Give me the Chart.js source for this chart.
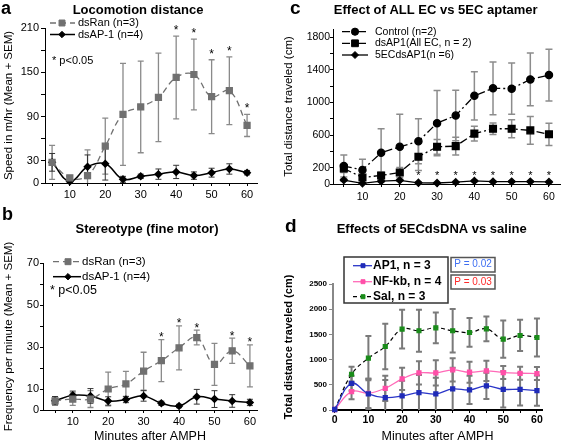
<!DOCTYPE html>
<html>
<head>
<meta charset="utf-8">
<script src="https://cdn.jsdelivr.net/npm/chart.js@4.4.1/dist/chart.umd.min.js"></script>
<style>
  body { margin: 0; background: #fff; }
  #wrap { position: relative; width: 567px; height: 443px; overflow: hidden; background: #fff; }
  canvas { position: absolute; }
</style>
</head>
<body>
<div id="wrap">
  <canvas id="chartA" width="280" height="200" style="left:0;top:0"></canvas>
  <canvas id="chartB" width="280" height="243" style="left:0;top:200px"></canvas>
  <canvas id="chartC" width="287" height="200" style="left:280px;top:0"></canvas>
  <canvas id="chartD" width="287" height="243" style="left:280px;top:200px"></canvas>
</div>
<script>
// ---- data ----
const minutes = [5, 10, 15, 20, 25, 30, 35, 40, 45, 50, 55, 60];
const minutesD = [0, 5, 10, 15, 20, 25, 30, 35, 40, 45, 50, 55, 60];
const xTicks = [5, 10, 15, 20, 25, 30, 35, 40, 45, 50, 55, 60];
const xTicksD = [0, 5, 10, 15, 20, 25, 30, 35, 40, 45, 50, 55, 60];

// a: locomotion
const locoRan    = [28, 7, 10, 50, 93, 103, 116, 143, 147, 117, 125, 78];
const locoRanSem = [23, 3, 35, 38, 69, 62, 60, 56, 48, 50, 46, 15];
const locoAp1    = [28, 2, 22, 26, 5, 9, 12, 15, 10, 14, 19, 14];
const locoAp1Sem = [12, 2, 16, 22, 4, 3, 7, 9, 5, 6, 7, 3];
const locoStars  = [40, 45, 50, 55, 60];
const locoTicks  = [0, 30, 60, 90, 120, 150, 180, 210];
const locoLabels = [0, 30, 90, 150, 210];

// b: stereotype
const stereoRan    = [4.4, 5.2, 5.2, 10, 12.4, 18.5, 23.5, 29.6, 34.5, 21.7, 28.2, 21];
const stereoRanSem = [2, 3, 4, 8, 6, 9, 10, 10.5, 3.5, 10, 6, 10];
const stereoAp1    = [4.4, 7, 6.7, 4.3, 5, 6.7, 3.2, 1.9, 6.3, 5.2, 4.3, 3.6];
const stereoAp1Sem = [2, 2, 3.5, 2, 1.5, 2.5, 1, 0.8, 3.5, 4, 3, 1.5];
const stereoStars  = [35, 40, 45, 55, 60];
const stereoTicks  = [0, 10, 20, 30, 40, 50, 60, 70];
const stereoLabels = [0, 10, 30, 50, 70];

// c: all EC vs 5EC
const ctrl      = [220, 173, 383, 456, 524, 746, 839, 1081, 1173, 1169, 1282, 1335];
const ctrlSem   = [135, 130, 295, 400, 275, 400, 310, 295, 323, 315, 323, 318];
const allEc     = [190, 80, 105, 141, 335, 456, 464, 617, 677, 677, 657, 609];
const allEcSem  = [50, 25, 40, 60, 170, 90, 110, 90, 70, 110, 170, 137];
const ec5       = [48, 8, 35, 45, 15, 12, 22, 38, 28, 30, 30, 26];
const ec5Sem    = [15, 6, 10, 10, 8, 5, 8, 10, 8, 8, 8, 8];
const ecStars   = [25, 30, 35, 40, 45, 50, 55, 60];
const ecStarLevel = 140;
const ecTicks   = [0, 200, 400, 600, 800, 1000, 1200, 1400, 1600, 1800];
const ecLabels  = [0, 200, 600, 1000, 1400, 1800];

// d: 5ECdsDNA vs saline
const ap1     = [10, 530, 318, 245, 278, 345, 318, 418, 398, 477, 411, 411, 385];
const ap1Sem  = [0, 150, 300, 350, 300, 350, 320, 420, 280, 260, 360, 320, 300];
const nfkb    = [10, 365, 332, 431, 617, 736, 736, 796, 749, 776, 743, 729, 723];
const nfkbSem = [0, 150, 290, 250, 220, 230, 250, 230, 210, 200, 130, 130, 130];
const sal     = [10, 710, 1028, 1260, 1605, 1572, 1631, 1572, 1538, 1611, 1406, 1479, 1439];
const salSem  = [0, 150, 440, 450, 385, 417, 305, 430, 285, 245, 370, 310, 378];
const dTicks  = [0, 500, 1000, 1500, 2000, 2500];
const pValues = ['P = 0.02', 'P = 0.03'];
const sigNote = '* p<0.05';

// ---- drawing helpers ----
const FONT = '"Liberation Sans", Arial, sans-serif';
Chart.defaults.font.family = FONT;
Chart.defaults.color = '#000';

function pts(xs, ys) { return xs.map((x, i) => ({ x: x, y: ys[i] })); }

function drawMarker(ctx, style, r, x, y, color) {
  ctx.save();
  ctx.fillStyle = color;
  ctx.strokeStyle = color;
  ctx.lineWidth = 1;
  ctx.setLineDash([]);
  ctx.beginPath();
  if (style === 'circle') {
    ctx.arc(x, y, r, 0, Math.PI * 2);
  } else if (style === 'rect') {
    const s = Math.SQRT1_2 * r;
    ctx.rect(x - s, y - s, 2 * s, 2 * s);
  } else {
    ctx.moveTo(x - r, y); ctx.lineTo(x, y - r); ctx.lineTo(x + r, y); ctx.lineTo(x, y + r);
    ctx.closePath();
  }
  ctx.fill();
  ctx.stroke();
  ctx.restore();
}

// per-panel decorations: letters, titles, legends, asterisks
const decos = {
  chartA: {
    letter: { text: 'a', x: 1, y: 14, size: 18 },
    title: { text: 'Locomotion distance', x: 138, y: 13.5 },
    legend: { rows: [[0, 23], [1, 34.5]], x0: 50, x1: 75, mx: 62, tx: 78, font: '11px ' + FONT },
    notes: [{ text: sigNote, x: 52, y: 61, font: '11px ' + FONT }],
    stars: { xs: locoStars, ds: 0, gap: 9, font: '12px ' + FONT },
    cap: 3
  },
  chartB: {
    letter: { text: 'b', x: 2, y: 20, size: 18 },
    title: { text: 'Stereotype (fine motor)', x: 147, y: 32.7 },
    legend: { rows: [[0, 61.7], [1, 76.7]], x0: 53, x1: 81, mx: 68, tx: 82, font: '11.5px ' + FONT },
    notes: [{ text: sigNote, x: 50, y: 91, font: '12.5px ' + FONT }],
    stars: { xs: stereoStars, ds: 0, gap: 5.5, font: '12px ' + FONT },
    cap: 3
  },
  chartC: {
    letter: { text: 'c', x: 10, y: 13.5, size: 19 },
    title: { text: 'Effect of ALL EC vs 5EC aptamer', x: 155.7, y: 14 },
    legend: { rows: [[0, 31.7], [1, 43.3], [2, 55]], x0: 62, x1: 88, mx: 75, tx: 95, font: '10.5px ' + FONT },
    notes: [],
    stars: { xs: ecStars, level: ecStarLevel, font: '11px ' + FONT },
    cap: 3.5
  },
  chartD: {
    letter: { text: 'd', x: 5, y: 32, size: 19 },
    title: { text: 'Effects of 5ECdsDNA vs saline', x: 151.7, y: 32.5 },
    legend: { rows: [[0, 65.7], [1, 81.7], [2, 96.7]], x0: 73, x1: 92, mx: 83, tx: 93, font: 'bold 12px ' + FONT,
              box: [64, 57, 104, 46] },
    notes: [
      { text: pValues[0], x: 193, y: 64.5, font: '10px ' + FONT, color: '#3f6ff2', align: 'center', box: [171, 57.5, 44, 14.5] },
      { text: pValues[1], x: 193, y: 82, font: '10px ' + FONT, color: '#ff2a2a', align: 'center', box: [171, 75, 44, 14] }
    ],
    cap: 3
  }
};

const decoPlugin = {
  id: 'deco',
  beforeDatasetsDraw(chart) {
    const d = decos[chart.canvas.id];
    const ctx = chart.ctx, ys = chart.scales.y;
    chart.data.datasets.forEach((ds, i) => {
      if (!ds.sem) return;
      const meta = chart.getDatasetMeta(i);
      ctx.save();
      ctx.strokeStyle = ds.errColor;
      ctx.lineWidth = ds.errWidth;
      ctx.setLineDash([]);
      meta.data.forEach((pt, j) => {
        const v = ds.data[j].y, e = ds.sem[j];
        if (!e) return;
        const yt = ys.getPixelForValue(v + e);
        const lo = Math.max(v - e, ys.min);
        const yb = ys.getPixelForValue(lo);
        ctx.beginPath();
        ctx.moveTo(pt.x, yt); ctx.lineTo(pt.x, yb);
        ctx.moveTo(pt.x - d.cap, yt); ctx.lineTo(pt.x + d.cap, yt);
        if (v - e > ys.min) { ctx.moveTo(pt.x - d.cap, yb); ctx.lineTo(pt.x + d.cap, yb); }
        ctx.stroke();
      });
      ctx.restore();
    });
  },
  afterDraw(chart) {
    const d = decos[chart.canvas.id];
    const ctx = chart.ctx, xs = chart.scales.x, ys = chart.scales.y;
    ctx.save();
    ctx.fillStyle = '#000';
    ctx.textBaseline = 'alphabetic';
    ctx.textAlign = 'left';
    ctx.font = 'bold ' + d.letter.size + 'px ' + FONT;
    ctx.fillText(d.letter.text, d.letter.x, d.letter.y);
    ctx.textAlign = 'center';
    ctx.font = 'bold 13px ' + FONT;
    ctx.fillText(d.title.text, d.title.x, d.title.y);

    // legend
    const lg = d.legend;
    if (lg.box) {
      ctx.strokeStyle = '#333';
      ctx.lineWidth = 1.5;
      ctx.strokeRect(lg.box[0], lg.box[1], lg.box[2], lg.box[3]);
    }
    lg.rows.forEach(([di, y]) => {
      const ds = chart.data.datasets[di];
      ctx.save();
      ctx.strokeStyle = ds.borderColor;
      ctx.lineWidth = ds.borderWidth;
      ctx.setLineDash(ds.borderDash || []);
      ctx.beginPath();
      ctx.moveTo(lg.x0, y); ctx.lineTo(lg.x1, y);
      ctx.stroke();
      ctx.restore();
      drawMarker(ctx, ds.pointStyle, ds.pointRadius, lg.mx, y, ds.pointBackgroundColor);
      ctx.fillStyle = '#000';
      ctx.font = lg.font;
      ctx.textAlign = 'left';
      ctx.textBaseline = 'middle';
      ctx.fillText(ds.label, lg.tx, y);
    });

    // notes
    d.notes.forEach(n => {
      if (n.box) {
        ctx.strokeStyle = '#555';
        ctx.lineWidth = 1.5;
        ctx.strokeRect(n.box[0], n.box[1], n.box[2], n.box[3]);
      }
      ctx.fillStyle = n.color || '#000';
      ctx.font = n.font;
      ctx.textAlign = n.align || 'left';
      ctx.textBaseline = 'middle';
      ctx.fillText(n.text, n.x, n.y);
    });

    // significance asterisks
    if (d.stars) {
      const st = d.stars;
      ctx.fillStyle = '#000';
      ctx.font = st.font;
      ctx.textAlign = 'center';
      ctx.textBaseline = 'alphabetic';
      const size = parseFloat(st.font);
      st.xs.forEach(xv => {
        let cy;
        if (st.level !== undefined) {
          cy = ys.getPixelForValue(st.level);
        } else {
          const ds = chart.data.datasets[st.ds];
          const j = ds.data.findIndex(p => p.x === xv);
          cy = ys.getPixelForValue(ds.data[j].y + ds.sem[j]) - st.gap;
        }
        ctx.fillText('*', xs.getPixelForValue(xv), cy + 0.57 * size);
      });
    }
    ctx.restore();
  }
};
Chart.register(decoPlugin);

function xAxis(min, max, ticks, height, pad, font, title, lw, tl) {
  return {
    type: 'linear', min: min, max: max,
    afterBuildTicks: s => { s.ticks = ticks.map(v => ({ value: v })); },
    afterFit: s => { s.height = height; },
    border: { color: '#000', width: lw || 1 },
    grid: { drawOnChartArea: false, drawTicks: true, tickLength: tl || 3, color: '#000', lineWidth: 1 },
    ticks: { autoSkip: false, maxRotation: 0, padding: pad, font: font,
             callback: v => (v % 10 === 0 ? v : '') },
    title: title ? { display: true, text: 'Minutes after AMPH', font: { size: 12.5, lineHeight: 1 }, padding: { top: 0, bottom: 0 } }
                 : { display: false }
  };
}

function yAxis(min, max, ticks, labels, width, tl, pad, font, title, titleFont, color, lw) {
  return {
    min: min, max: max,
    afterBuildTicks: s => { s.ticks = ticks.map(v => ({ value: v })); },
    afterFit: s => { s.width = width; },
    border: { color: color || '#000', width: lw || 1 },
    grid: { drawOnChartArea: false, drawTicks: true, tickLength: tl, color: color || '#000' },
    ticks: { padding: pad, font: font, callback: v => (labels.includes(v) ? v : '') },
    title: { display: true, text: title, font: titleFont, padding: { top: 2 } }
  };
}

const base = {
  responsive: false,
  animation: false,
  events: [],
  plugins: { legend: { display: false }, tooltip: { enabled: false } }
};

// ---- a ----
new Chart(document.getElementById('chartA'), {
  type: 'line',
  data: {
    datasets: [
      { label: 'dsRan (n=3)', data: pts(minutes, locoRan), sem: locoRanSem,
        borderColor: '#707070', borderWidth: 1.3, borderDash: [6, 4], tension: 0.4,
        pointStyle: 'rect', pointRadius: 4.2, pointBackgroundColor: '#707070', pointBorderColor: '#707070',
        errColor: '#8a8a8a', errWidth: 1.3, clip: false },
      { label: 'dsAP-1 (n=4)', data: pts(minutes, locoAp1), sem: locoAp1Sem,
        borderColor: '#000', borderWidth: 1.5, tension: 0.4,
        pointStyle: 'rectRot', pointRadius: 3.2, pointBackgroundColor: '#000', pointBorderColor: '#000',
        errColor: '#333', errWidth: 1, clip: false }
    ]
  },
  options: Object.assign({}, base, {
    layout: { padding: { left: 0, right: 23, top: 28, bottom: 0 } },
    scales: {
      x: xAxis(3, 62.8, xTicks, 17, 2, { size: 11 }, false),
      y: yAxis(0, 210, locoTicks, locoLabels, 45, 4, 2, { size: 11 }, 'Speed in m/hr (Mean + SEM)', { size: 11.5 })
    }
  })
});

// ---- b ----
new Chart(document.getElementById('chartB'), {
  type: 'line',
  data: {
    datasets: [
      { label: 'dsRan (n=3)', data: pts(minutes, stereoRan), sem: stereoRanSem,
        borderColor: '#707070', borderWidth: 1.3, borderDash: [6, 4], tension: 0.4,
        pointStyle: 'rect', pointRadius: 4.2, pointBackgroundColor: '#707070', pointBorderColor: '#707070',
        errColor: '#8a8a8a', errWidth: 1.3, clip: false },
      { label: 'dsAP-1 (n=4)', data: pts(minutes, stereoAp1), sem: stereoAp1Sem,
        borderColor: '#000', borderWidth: 1.5, tension: 0.4,
        pointStyle: 'rectRot', pointRadius: 3.2, pointBackgroundColor: '#000', pointBorderColor: '#000',
        errColor: '#333', errWidth: 1, clip: false }
    ]
  },
  options: Object.assign({}, base, {
    layout: { padding: { left: 0, right: 23, top: 63, bottom: 0 } },
    scales: {
      x: xAxis(1.6, 62, xTicks, 33, 2, { size: 11 }, true),
      y: yAxis(0, 70, stereoTicks, stereoLabels, 43, 3, 1, { size: 11 }, 'Frequency per minute (Mean + SEM)', { size: 11.5 })
    }
  })
});

// ---- c ----
new Chart(document.getElementById('chartC'), {
  type: 'line',
  data: {
    datasets: [
      { label: 'Control (n=2)', data: pts(minutes, ctrl), sem: ctrlSem,
        borderColor: '#000', borderWidth: 1.3, borderDash: [8, 3, 2, 3], tension: 0,
        pointStyle: 'circle', pointRadius: 3.6, pointBackgroundColor: '#000', pointBorderColor: '#000',
        errColor: '#8c8c8c', errWidth: 1.5, clip: false },
      { label: 'dsAP1(All EC, n = 2)', data: pts(minutes, allEc), sem: allEcSem,
        borderColor: '#000', borderWidth: 1.3, borderDash: [8, 3, 2, 3], tension: 0,
        pointStyle: 'rect', pointRadius: 4.8, pointBackgroundColor: '#000', pointBorderColor: '#000',
        errColor: '#8c8c8c', errWidth: 1.5, clip: false },
      { label: '5ECdsAP1(n =6)', data: pts(minutes, ec5), sem: ec5Sem,
        borderColor: '#000', borderWidth: 1.3, tension: 0,
        pointStyle: 'rectRot', pointRadius: 3.5, pointBackgroundColor: '#000', pointBorderColor: '#000',
        errColor: '#8c8c8c', errWidth: 1.5, clip: false }
    ]
  },
  options: Object.assign({}, base, {
    layout: { padding: { left: 0, right: 2, top: 29, bottom: 0 } },
    scales: {
      x: xAxis(2.1, 63.2, xTicks, 16, 4, { size: 10.5 }, false),
      y: yAxis(0, 1900, ecTicks, ecLabels, 53, 3, 0, { size: 10.5 }, 'Total distance traveled (cm)', { size: 11.5 })
    }
  })
});

// ---- d ----
new Chart(document.getElementById('chartD'), {
  type: 'line',
  data: {
    datasets: [
      { label: 'AP1, n = 3', data: pts(minutesD, ap1), sem: ap1Sem,
        borderColor: '#2a35c8', borderWidth: 1.3, tension: 0.4,
        pointStyle: 'rect', pointRadius: 2.8, pointBackgroundColor: '#1f2bb8', pointBorderColor: '#1f2bb8',
        errColor: '#7a7a7a', errWidth: 2, clip: false },
      { label: 'NF-kb, n = 4', data: pts(minutesD, nfkb), sem: nfkbSem,
        borderColor: '#ff6ab8', borderWidth: 1.3, tension: 0.4,
        pointStyle: 'rect', pointRadius: 2.8, pointBackgroundColor: '#ff4fa8', pointBorderColor: '#ff4fa8',
        errColor: '#7a7a7a', errWidth: 2, clip: false },
      { label: 'Sal, n = 3', data: pts(minutesD, sal), sem: salSem,
        borderColor: '#000', borderWidth: 1.2, borderDash: [4, 3], tension: 0.4,
        pointStyle: 'rect', pointRadius: 2.8, pointBackgroundColor: '#1a8c1a', pointBorderColor: '#1a8c1a',
        errColor: '#7a7a7a', errWidth: 2, clip: false }
    ]
  },
  options: Object.assign({}, base, {
    layout: { padding: { left: 0, right: 25, top: 84, bottom: 0 } },
    scales: {
      x: xAxis(-0.5, 61.5, xTicksD, 33, 1, { size: 10.5, weight: 'bold' }, true, 2, 3),
      y: yAxis(0, 2500, dTicks, dTicks, 53, 4, 2, { size: 8, weight: 'bold' }, 'Total distance traveled (cm)',
               { size: 11, weight: 'bold' }, '#888', 2)
    }
  })
});
</script>
</body>
</html>
